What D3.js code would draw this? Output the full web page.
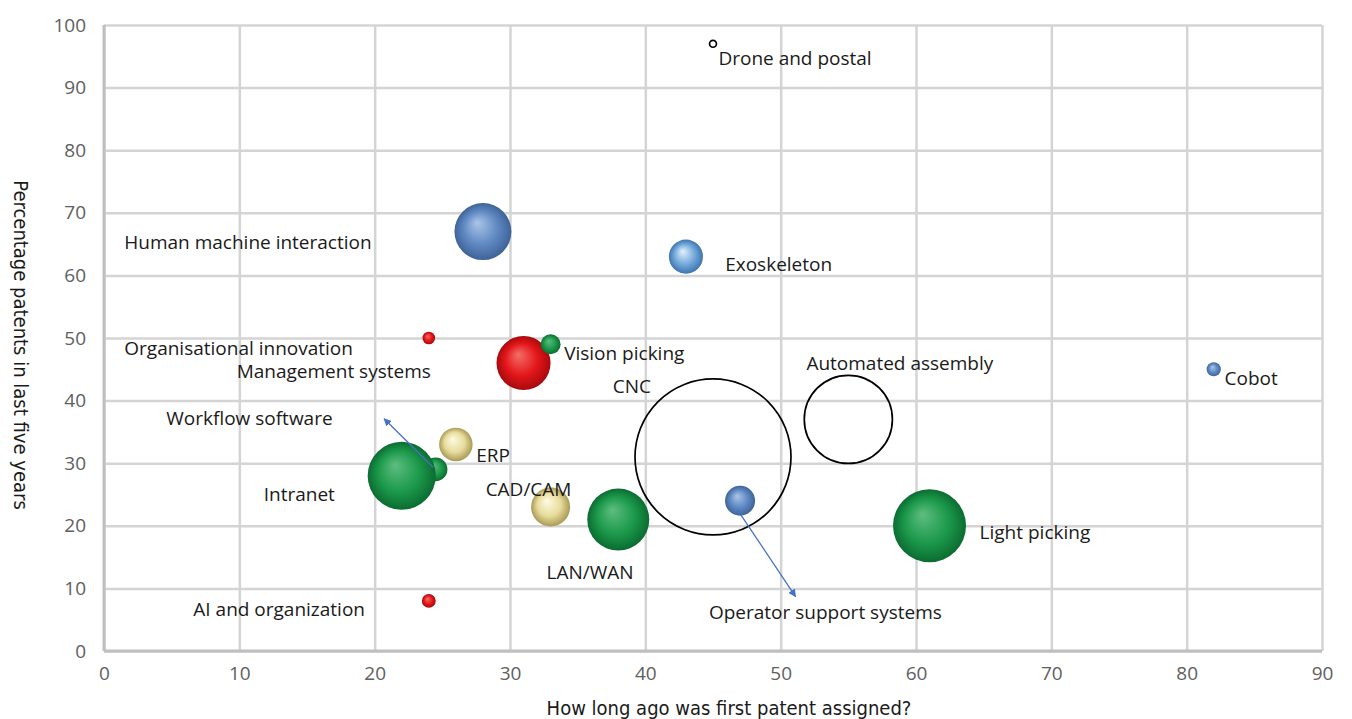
<!DOCTYPE html>
<html>
<head>
<meta charset="utf-8">
<script src="https://cdn.jsdelivr.net/npm/d3@7"></script>
<style>
  body { margin: 0; background: #fff; }
  .tick text { font-family: "Open Sans", sans-serif; font-size: 19px; fill: #606060; }
  .label { font-family: "Open Sans", sans-serif; font-size: 19px; fill: #1a1a1a; }
  .title { font-family: "Liberation Sans Narrow", "DejaVu Sans Condensed", sans-serif; font-size: 20px; fill: #1a1a1a; }
</style>
</head>
<body>
<div id="plot"></div>
<script>
// technologies, drawn back to front
const names = ["CNC", "Automated assembly", "Human machine interaction", "Exoskeleton", "Drone and postal",
  "Cobot", "Organisational innovation", "Management systems", "Vision picking", "Workflow software",
  "Intranet", "ERP", "CAD/CAM", "LAN/WAN", "Operator support systems", "Light picking", "AI and organization"];
// years since first patent
const firstPatent = [45, 55, 28, 43, 45, 82, 24, 31, 33, 24.5, 22, 26, 33, 38, 47, 61, 24];
// % of patents in last five years
const recentShare = [31, 37, 67, 63, 97, 45, 50, 46, 49, 29, 28, 33, 23, 21, 24, 20, 8];
// bubble size (number of patents)
const patents = [6080, 1940, 810, 290, 12, 50, 40, 730, 100, 140, 1160, 280, 380, 960, 225, 1330, 48];
// colour group
const group = ["none", "none", "blue", "lightblue", "none", "blue", "red", "red", "green", "green",
  "green", "yellow", "yellow", "green", "blue", "green", "red"];
// label anchor (left edge / middle), in axis units
const labelX = [37.6, 51.9, 1.5, 45.9, 45.4, 82.8, 1.5, 9.8, 34.0, 4.6, 11.8, 27.5, 28.2, 32.7, 44.7, 64.7, 6.6];
const labelY = [42.2, 46.0, 65.3, 61.7, 94.7, 43.6, 48.4, 44.6, 47.6, 37.2, 25.1, 31.2, 25.9, 12.5, 6.1, 19.0, 6.7];
// arrows: from bubble towards its label
const arrows = [
  { from: [24.3, 29.4], to: [20.7, 37.1] },
  { from: [46.8, 22.6], to: [51.1, 8.7] }
];

const xTicks = d3.range(0, 91, 10);
const yTicks = d3.range(0, 101, 10);

const width = 1352, height = 719;
const x = d3.scaleLinear().domain([0, 90]).range([104, 1322]);
const y = d3.scaleLinear().domain([0, 100]).range([651, 25]);
const r = d3.scaleSqrt().domain([0, d3.max(patents)]).range([0, 78]);

const palette = {
  blue:      ["#aac6e8", "#5f88c2", "#3f6398"],
  lightblue: ["#e4f2fb", "#72a9da", "#3f74b0"],
  red:       ["#f47068", "#e3161b", "#a80a0d"],
  green:     ["#5fbd80", "#1c9a4b", "#0b6c31"],
  yellow:    ["#fffbe4", "#e8dc9c", "#a99a55"]
};

const svg = d3.select("#plot").append("svg")
    .attr("width", width)
    .attr("height", height);

const defs = svg.append("defs");
Object.entries(palette).forEach(([key, c]) => {
  const g = defs.append("radialGradient")
      .attr("id", "ball-" + key)
      .attr("cx", "50%").attr("cy", "50%").attr("r", "50%")
      .attr("fx", "40%").attr("fy", "34%");
  g.append("stop").attr("offset", "0%").attr("stop-color", c[0]);
  g.append("stop").attr("offset", "60%").attr("stop-color", c[1]);
  g.append("stop").attr("offset", "100%").attr("stop-color", c[2]);
});
defs.append("marker")
    .attr("id", "head")
    .attr("viewBox", "0 0 10 10")
    .attr("refX", 9).attr("refY", 5)
    .attr("markerWidth", 6).attr("markerHeight", 6)
    .attr("orient", "auto")
  .append("path")
    .attr("d", "M0,0L10,5L0,10z")
    .attr("fill", "#4472c4");

// grid + x axis
const xAxis = svg.append("g")
    .attr("transform", `translate(0,${y(0)})`)
    .call(d3.axisBottom(x).tickValues(xTicks).tickSize(-(y(0) - y(100))).tickPadding(16));
xAxis.select(".domain").remove();
xAxis.selectAll("line").attr("stroke", "#d4d4d4").attr("stroke-width", 2.5);

const yAxis = svg.append("g")
    .attr("transform", `translate(${x(0)},0)`)
    .call(d3.axisLeft(y).tickValues(yTicks).tickSize(-(x(90) - x(0))).tickPadding(18));
yAxis.select(".domain").remove();
yAxis.selectAll("line").attr("stroke", "#d4d4d4").attr("stroke-width", 2.5);

// axis lines
svg.append("line")
    .attr("x1", x(0)).attr("x2", x(0)).attr("y1", y(100)).attr("y2", y(0))
    .attr("stroke", "#bfbfbf").attr("stroke-width", 3);
svg.append("line")
    .attr("x1", x(0)).attr("x2", x(90)).attr("y1", y(0)).attr("y2", y(0))
    .attr("stroke", "#bfbfbf").attr("stroke-width", 3);

// bubbles
const data = names.map((n, i) => ({ name: n, x: firstPatent[i], y: recentShare[i], size: patents[i], group: group[i] }));

svg.selectAll(".bubble")
  .data(data)
  .enter().append("circle")
    .attr("class", "bubble")
    .attr("cx", d => x(d.x))
    .attr("cy", d => y(d.y))
    .attr("r", d => r(d.size))
    .attr("fill", d => d.group === "none" ? "none" : `url(#ball-${d.group})`)
    .attr("stroke", d => d.group === "none" ? "#000" : "none")
    .attr("stroke-width", 1.7);

// arrows
svg.selectAll(".arrow")
  .data(arrows)
  .enter().append("line")
    .attr("x1", d => x(d.from[0])).attr("y1", d => y(d.from[1]))
    .attr("x2", d => x(d.to[0])).attr("y2", d => y(d.to[1]))
    .attr("stroke", "#4472c4")
    .attr("stroke-width", 1.3)
    .attr("marker-end", "url(#head)");

// labels
svg.selectAll(".label")
  .data(names)
  .enter().append("text")
    .attr("class", "label")
    .attr("x", (d, i) => x(labelX[i]))
    .attr("y", (d, i) => y(labelY[i]))
    .attr("dy", "0.35em")
    .text(d => d);

// axis titles
svg.append("text")
    .attr("class", "title")
    .attr("text-anchor", "middle")
    .attr("x", 729)
    .attr("y", 715)
    .text("How long ago was first patent assigned?");

svg.append("text")
    .attr("class", "title")
    .attr("text-anchor", "middle")
    .attr("transform", `translate(14,${345}) rotate(90)`)
    .text("Percentage patents in last five years");
</script>
</body>
</html>
